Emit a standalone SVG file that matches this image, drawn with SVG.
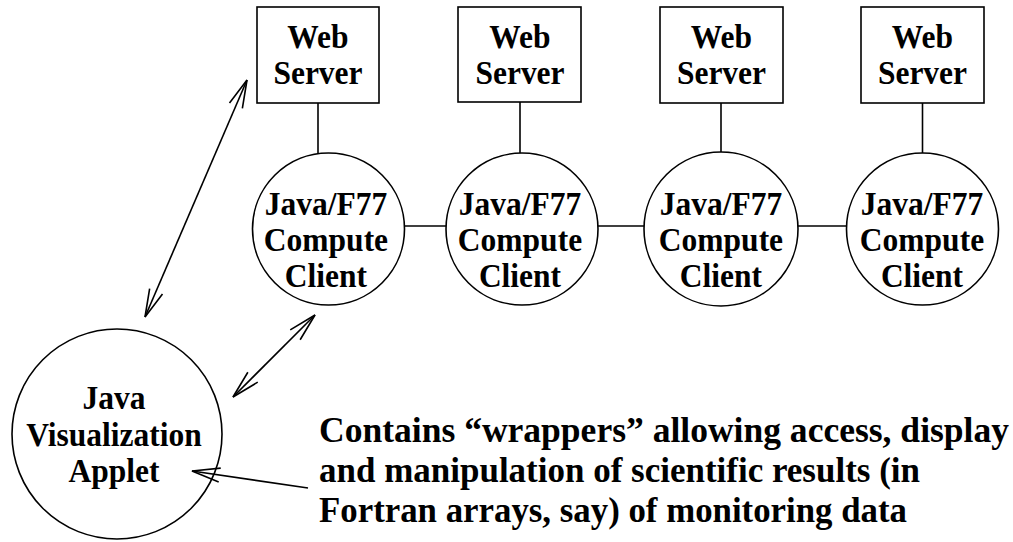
<svg xmlns="http://www.w3.org/2000/svg" width="1013" height="542" viewBox="0 0 1013 542">
<style>
.shape{fill:#fff;stroke:#000;stroke-width:1.6}
.t{font-family:"Liberation Serif","Times New Roman",serif;font-weight:bold;font-size:31.5px;text-anchor:middle;fill:#000}
.note{font-family:"Liberation Serif","Times New Roman",serif;font-weight:bold;font-size:35.4px;fill:#000}
.ln{fill:none;stroke:#000;stroke-width:1.6}
.arr{fill:none;stroke:#000;stroke-width:1.6;marker-start:url(#ah);marker-end:url(#ah)}
.arr1{fill:none;stroke:#000;stroke-width:1.6;marker-end:url(#ah)}
</style>
<defs>
<marker id="ah" markerUnits="userSpaceOnUse" markerWidth="40" markerHeight="40" viewBox="-35 -20 40 40" refX="0" refY="0" orient="auto-start-reverse" overflow="visible">
<path d="M -28 -7 L 0 0 L -28 7" fill="none" stroke="#000" stroke-width="1.6"/>
</marker>
</defs>
<g id="ws1"><rect class="shape" x="257" y="7" width="122" height="96"/><text class="t" x="318" y="48" transform="matrix(1,0,0,1.1,0,-4.8)">Web</text><text class="t" x="318" y="84" transform="matrix(1,0,0,1.1,0,-8.4)">Server</text></g>
<g id="ws2"><rect class="shape" x="458" y="7" width="123" height="95"/><text class="t" x="520" y="48" transform="matrix(1,0,0,1.1,0,-4.8)">Web</text><text class="t" x="520" y="84" transform="matrix(1,0,0,1.1,0,-8.4)">Server</text></g>
<g id="ws3"><rect class="shape" x="660" y="7" width="123" height="96"/><text class="t" x="721.5" y="48" transform="matrix(1,0,0,1.1,0,-4.8)">Web</text><text class="t" x="721.5" y="84" transform="matrix(1,0,0,1.1,0,-8.4)">Server</text></g>
<g id="ws4"><rect class="shape" x="861" y="7" width="123" height="96"/><text class="t" x="922.5" y="48" transform="matrix(1,0,0,1.1,0,-4.8)">Web</text><text class="t" x="922.5" y="84" transform="matrix(1,0,0,1.1,0,-8.4)">Server</text></g>
<g id="cc1"><circle class="shape" cx="328.5" cy="229" r="76"/><text class="t" x="326" y="215" transform="matrix(1,0,0,1.1,0,-21.5)">Java/F77</text><text class="t" x="326" y="251" transform="matrix(1,0,0,1.1,0,-25.1)">Compute</text><text class="t" x="326" y="287" transform="matrix(1,0,0,1.1,0,-28.7)">Client</text></g>
<g id="cc2"><circle class="shape" cx="522" cy="229" r="76"/><text class="t" x="520" y="215" transform="matrix(1,0,0,1.1,0,-21.5)">Java/F77</text><text class="t" x="520" y="251" transform="matrix(1,0,0,1.1,0,-25.1)">Compute</text><text class="t" x="520" y="287" transform="matrix(1,0,0,1.1,0,-28.7)">Client</text></g>
<g id="cc3"><circle class="shape" cx="721" cy="229" r="77"/><text class="t" x="721" y="215" transform="matrix(1,0,0,1.1,0,-21.5)">Java/F77</text><text class="t" x="721" y="251" transform="matrix(1,0,0,1.1,0,-25.1)">Compute</text><text class="t" x="721" y="287" transform="matrix(1,0,0,1.1,0,-28.7)">Client</text></g>
<g id="cc4"><circle class="shape" cx="922.5" cy="229" r="76"/><text class="t" x="922" y="215" transform="matrix(1,0,0,1.1,0,-21.5)">Java/F77</text><text class="t" x="922" y="251" transform="matrix(1,0,0,1.1,0,-25.1)">Compute</text><text class="t" x="922" y="287" transform="matrix(1,0,0,1.1,0,-28.7)">Client</text></g>
<g id="applet"><circle class="shape" cx="117" cy="434" r="105"/><text class="t" x="114" y="409" transform="matrix(1,0,0,1.1,0,-40.9)">Java</text><text class="t" x="114" y="446" transform="matrix(1,0,0,1.1,0,-44.6)">Visualization</text><text class="t" x="114" y="482" transform="matrix(1,0,0,1.1,0,-48.2)">Applet</text></g>
<g id="note"><text class="note" x="319" y="442" textLength="690" lengthAdjust="spacingAndGlyphs">Contains “wrappers” allowing access, display</text><text class="note" x="319" y="482" textLength="601" lengthAdjust="spacingAndGlyphs">and manipulation of scientific results (in</text><text class="note" x="319" y="522" textLength="588" lengthAdjust="spacingAndGlyphs">Fortran arrays, say) of monitoring data</text></g>
<g id="connectors">
<line class="ln" x1="318" y1="103" x2="318" y2="154"/>
<line class="ln" x1="520" y1="102" x2="520" y2="153"/>
<line class="ln" x1="721" y1="103" x2="721" y2="152"/>
<line class="ln" x1="922.5" y1="103" x2="922.5" y2="153"/>
<line class="ln" x1="404.5" y1="226" x2="446" y2="226"/>
<line class="ln" x1="598" y1="226" x2="644" y2="226"/>
<line class="ln" x1="798" y1="226" x2="846.5" y2="226"/>
<line class="arr" x1="145" y1="317" x2="247" y2="80"/>
<line class="arr" x1="233" y1="397" x2="315" y2="315"/>
<line class="arr1" x1="308" y1="488" x2="192" y2="471"/>
</g>
</svg>
